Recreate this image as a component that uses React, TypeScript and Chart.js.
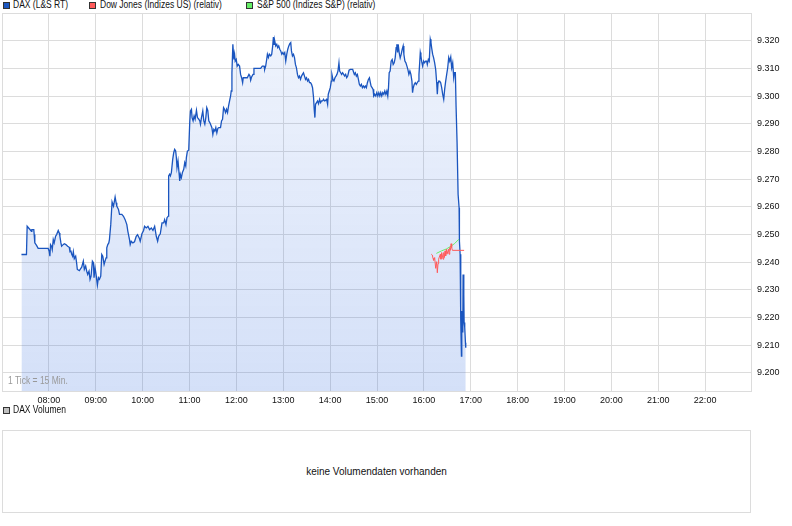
import React, { useEffect, useRef } from "react";
import { Chart, registerables } from "chart.js";

Chart.register(...registerables);

// x axis: minutes of the day
const xMin = 420; // 07:00
const xMax = 1380; // 23:00
const xTickMinutes = [480, 540, 600, 660, 720, 780, 840, 900, 960, 1020, 1080, 1140, 1200, 1260, 1320];
const xTickLabels = ["08:00", "09:00", "10:00", "11:00", "12:00", "13:00", "14:00", "15:00", "16:00", "17:00", "18:00", "19:00", "20:00", "21:00", "22:00"];

// y axis (index points)
const yMin = 9193.1;
const yMax = 9330.1;
const yTickValues = [9200, 9210, 9220, 9230, 9240, 9250, 9260, 9270, 9280, 9290, 9300, 9310, 9320];
const yTickLabels = ["9.200", "9.210", "9.220", "9.230", "9.240", "9.250", "9.260", "9.270", "9.280", "9.290", "9.300", "9.310", "9.320"];

// DAX (L&S RT): [minute of day, value]
const daxSeries: [number, number][] = [
  [444.9, 9242.8], [451.3, 9242.8], [452.2, 9253.0], [457.7, 9251.2], [458.2, 9251.8], [460.7, 9251.8],
  [461.2, 9250.0], [462.0, 9247.0], [464.2, 9246.1], [466.3, 9245.0], [479.1, 9245.0], [480.4, 9244.0],
  [481.3, 9242.2], [482.1, 9246.4], [483.4, 9245.8], [484.3, 9244.6], [485.6, 9248.2], [486.8, 9247.0],
  [488.6, 9249.4], [489.9, 9250.0], [492.0, 9251.5], [493.3, 9250.6], [494.1, 9249.4], [495.4, 9247.0],
  [496.3, 9245.8], [497.6, 9246.2], [499.7, 9246.7], [501.8, 9246.4], [504.0, 9245.8], [506.1, 9245.4],
  [507.0, 9243.8], [508.3, 9244.0], [509.1, 9243.0], [510.4, 9242.2], [511.3, 9243.8], [512.5, 9241.3],
  [514.3, 9242.2], [515.5, 9239.8], [516.4, 9237.4], [519.0, 9237.0], [520.7, 9237.7], [522.0, 9238.2],
  [524.1, 9240.4], [525.4, 9237.4], [527.1, 9238.6], [528.4, 9236.8], [529.7, 9235.6], [531.4, 9236.8],
  [532.7, 9233.8], [534.0, 9235.0], [535.7, 9240.4], [537.0, 9239.8], [537.8, 9234.4], [539.1, 9238.0],
  [540.4, 9235.6], [542.1, 9231.7], [543.4, 9234.4], [544.7, 9233.8], [546.4, 9235.0], [547.7, 9242.8],
  [549.0, 9242.2], [550.7, 9239.2], [551.9, 9240.4], [553.2, 9241.6], [554.1, 9245.2], [555.4, 9246.4],
  [556.7, 9247.0], [557.5, 9248.2], [559.2, 9253.6], [560.9, 9261.8], [562.7, 9260.3], [563.9, 9262.1],
  [564.8, 9263.6], [566.1, 9261.5], [566.9, 9260.3], [569.1, 9259.1], [570.4, 9257.3], [573.4, 9257.3],
  [575.5, 9256.6], [577.6, 9255.4], [579.8, 9253.6], [581.1, 9251.2], [583.2, 9248.2], [584.1, 9246.4],
  [585.4, 9247.6], [587.5, 9247.0], [589.6, 9247.4], [591.8, 9249.4], [593.5, 9250.0], [595.6, 9248.8],
  [596.9, 9247.6], [599.1, 9250.3], [601.2, 9251.5], [602.5, 9253.0], [604.7, 9252.4], [606.8, 9253.0],
  [608.9, 9251.8], [611.1, 9252.4], [613.2, 9251.5], [615.4, 9253.0], [617.5, 9249.4], [619.2, 9247.6],
  [620.5, 9249.4], [622.6, 9250.3], [624.8, 9254.2], [626.9, 9254.2], [628.2, 9255.4], [629.9, 9253.6],
  [631.2, 9256.1], [632.9, 9256.7],
  [633.3, 9271.2], [634.6, 9271.8], [635.5, 9271.2], [636.8, 9272.4], [638.5, 9277.2], [639.8, 9279.6],
  [641.0, 9280.8], [642.3, 9280.2], [643.2, 9277.8], [644.0, 9274.2], [645.3, 9276.6], [647.5, 9269.4],
  [648.3, 9271.8], [649.6, 9270.6], [650.9, 9272.4], [652.6, 9273.6], [653.9, 9276.0], [655.2, 9274.8],
  [656.0, 9277.8], [657.3, 9280.2], [659.0, 9280.5], [660.3, 9290.5], [661.2, 9294.7], [662.5, 9295.3],
  [663.3, 9292.3], [664.6, 9291.1], [665.9, 9292.9], [667.2, 9291.7], [668.9, 9294.9], [670.2, 9292.3],
  [671.9, 9291.7], [673.2, 9291.1], [674.0, 9289.9], [675.3, 9292.3], [677.0, 9294.7], [678.3, 9291.1],
  [679.6, 9289.9], [680.9, 9292.3], [682.1, 9295.9], [683.4, 9294.9], [684.7, 9291.1], [686.0, 9290.5],
  [687.3, 9289.6], [688.6, 9288.7], [689.9, 9286.2], [691.1, 9288.0], [692.4, 9287.4], [693.7, 9288.7],
  [695.0, 9286.8], [696.3, 9288.4], [697.6, 9288.7], [699.7, 9288.7], [701.0, 9291.1], [702.3, 9291.7],
  [703.6, 9295.9], [704.8, 9295.3], [706.1, 9294.1], [707.4, 9295.3], [708.7, 9294.1], [710.0, 9296.5],
  [711.3, 9298.3], [712.6, 9300.1], [713.4, 9301.9], [714.3, 9308.5], [715.5, 9318.8], [716.8, 9313.3],
  [717.7, 9315.2], [718.5, 9312.7], [719.8, 9313.3], [721.1, 9310.9], [722.4, 9311.5], [724.1, 9310.9],
  [725.4, 9307.9], [726.7, 9306.7], [728.0, 9304.9], [728.8, 9306.7], [731.8, 9306.7], [734.0, 9306.7],
  [736.1, 9307.9], [737.4, 9307.3], [738.3, 9305.8], [739.5, 9307.0], [741.3, 9307.9], [742.5, 9310.1],
  [751.1, 9310.1], [753.2, 9310.9], [755.4, 9310.9], [756.2, 9309.7], [757.5, 9310.9], [758.8, 9313.3],
  [759.7, 9315.2], [761.0, 9314.0], [762.2, 9315.2], [764.0, 9314.6], [765.2, 9315.2], [766.5, 9318.2],
  [767.4, 9321.4], [768.2, 9318.8], [769.1, 9320.0], [770.4, 9318.2], [771.7, 9318.8], [772.9, 9317.6],
  [774.2, 9318.2], [775.5, 9317.0], [776.8, 9316.4], [778.1, 9315.2], [779.4, 9315.8], [780.6, 9315.2],
  [781.9, 9315.8], [783.2, 9312.7], [784.5, 9315.2], [785.8, 9317.0], [787.1, 9318.2], [788.4, 9319.0],
  [789.6, 9319.4], [790.5, 9316.4], [791.8, 9314.6], [793.1, 9315.2], [794.4, 9314.0], [795.6, 9311.5],
  [796.9, 9310.3], [798.2, 9307.9], [799.5, 9306.7], [800.8, 9307.3], [802.1, 9306.1], [803.4, 9307.3],
  [804.6, 9307.9], [805.9, 9308.5], [807.2, 9307.3], [808.5, 9306.1], [809.8, 9306.7], [811.1, 9305.5],
  [812.4, 9306.1], [813.6, 9304.9], [814.9, 9304.9], [816.2, 9304.3], [817.5, 9303.1], [818.8, 9299.5],
  [819.6, 9295.3], [820.5, 9292.3], [821.3, 9297.1], [822.6, 9297.7], [823.9, 9298.3], [825.2, 9297.3],
  [826.5, 9298.9], [827.8, 9297.7], [829.0, 9298.3], [830.3, 9298.3], [831.6, 9298.9], [832.9, 9298.3],
  [834.2, 9298.5], [835.5, 9298.9], [836.8, 9297.1], [837.6, 9300.7], [838.9, 9301.9], [840.2, 9303.1],
  [841.5, 9305.5], [842.3, 9307.9], [843.6, 9306.1], [844.9, 9305.5], [846.2, 9306.7], [847.5, 9307.3],
  [848.7, 9307.9], [850.0, 9309.1], [851.3, 9312.1], [852.2, 9309.1], [853.5, 9308.5], [854.7, 9307.9],
  [856.0, 9308.5], [857.3, 9307.9], [858.6, 9307.3], [859.9, 9307.9], [861.2, 9306.7], [862.5, 9307.3],
  [864.2, 9309.4], [865.9, 9309.7],
  [866.7, 9309.7], [868.9, 9309.7], [871.0, 9307.9], [872.3, 9308.5], [873.6, 9307.3], [874.9, 9307.9],
  [876.2, 9306.1], [877.4, 9304.3], [878.7, 9303.7], [880.0, 9304.3], [881.3, 9303.1], [882.6, 9303.7],
  [883.9, 9303.1], [885.1, 9303.7], [886.4, 9303.1], [887.7, 9304.9], [889.0, 9306.1], [890.3, 9306.7],
  [891.1, 9305.5], [892.4, 9303.7], [893.7, 9303.1], [895.0, 9302.5], [895.8, 9300.1], [897.1, 9300.7],
  [898.4, 9300.1], [899.7, 9301.3], [901.0, 9300.1], [902.3, 9301.3], [903.6, 9300.1], [904.8, 9301.3],
  [906.1, 9300.1], [907.4, 9301.3], [908.7, 9300.7], [910.0, 9301.9], [911.3, 9300.7], [912.6, 9301.9],
  [913.8, 9300.1], [914.7, 9303.1], [915.6, 9308.5], [916.8, 9309.1], [918.1, 9312.7], [919.4, 9313.3],
  [920.7, 9311.5], [922.0, 9312.1], [923.3, 9313.9], [924.5, 9317.6], [925.4, 9318.8], [926.3, 9315.8],
  [927.1, 9318.8], [928.4, 9315.8], [929.7, 9313.9], [931.0, 9315.2], [932.3, 9317.0], [933.5, 9318.2],
  [934.4, 9315.2], [935.7, 9312.7], [937.0, 9312.1], [938.3, 9310.9], [939.5, 9309.7], [940.8, 9307.9],
  [942.1, 9309.1], [943.4, 9307.9], [944.7, 9305.5], [945.5, 9301.3], [946.4, 9303.1], [947.7, 9304.3],
  [949.0, 9304.9], [950.3, 9304.3], [951.5, 9304.9], [952.8, 9305.5], [953.7, 9307.9], [954.5, 9311.5],
  [955.4, 9315.8], [956.2, 9314.6], [957.1, 9312.7], [958.4, 9310.9], [959.7, 9312.7], [960.9, 9312.1],
  [962.2, 9312.7], [963.5, 9312.7], [964.4, 9311.5], [965.7, 9313.3], [966.9, 9312.7], [968.2, 9320.6],
  [969.1, 9319.4], [969.9, 9317.6], [971.2, 9315.2], [972.5, 9313.9], [973.8, 9312.1], [975.1, 9309.7],
  [976.4, 9304.9], [977.2, 9300.7], [978.1, 9304.9], [978.9, 9305.5], [980.2, 9305.5], [981.5, 9304.9],
  [982.8, 9303.1], [984.1, 9300.7], [985.4, 9298.9], [986.6, 9302.5], [987.9, 9305.5], [989.2, 9307.9],
  [990.5, 9310.3], [991.8, 9314.0], [993.1, 9312.7], [994.4, 9314.2], [995.6, 9310.3], [996.9, 9312.1],
  [998.2, 9306.7], [999.1, 9308.5], [1000.3, 9308.5], [1001.2, 9296.5], [1002.5, 9283.2], [1003.8, 9264.6],
  [1005.1, 9259.7], [1005.5, 9247.7], [1006.4, 9242.9], [1007.2, 9218.8], [1008.1, 9206.1], [1008.5, 9222.4],
  [1008.9, 9216.4], [1009.8, 9214.6], [1010.2, 9235.6], [1011.1, 9228.4], [1011.5, 9218.2], [1012.3, 9216.4],
  [1013.2, 9210.9], [1013.6, 9209.1],
];

// Dow Jones (Indizes US) (relativ)
const dowSeries: [number, number][] = [
  [969.5, 9242.9], [970.8, 9242.6], [971.7, 9241.4], [972.5, 9240.7], [973.8, 9241.7], [975.1, 9237.8],
  [976.4, 9240.2], [977.2, 9236.2], [978.1, 9239.5], [978.9, 9241.1], [980.2, 9242.3], [981.1, 9242.9],
  [981.9, 9241.1], [982.8, 9243.5], [983.6, 9242.6], [984.5, 9241.1], [985.4, 9243.5], [986.2, 9241.7],
  [987.1, 9244.1], [987.9, 9242.3], [988.8, 9244.7], [989.6, 9242.9], [990.5, 9242.9], [991.4, 9244.7],
  [992.2, 9242.9], [993.1, 9245.3], [993.9, 9244.3], [994.8, 9246.7], [995.6, 9245.3], [996.5, 9244.3],
  [1011.5, 9244.3],
];

// S&P 500 (Indizes S&P) (relativ)
const spSeries: [number, number][] = [
  [976.0, 9243.2], [982.4, 9244.1], [988.8, 9244.8], [995.2, 9245.9], [999.5, 9246.8], [1004.6, 9248.3],
];

const FONT = '"Liberation Sans", Arial, sans-serif';
const GRID = "#dcdcdc";

const legendItems = [
  { label: "DAX (L&S RT)", color: "#1c58c2", box: 3, text: 13 },
  { label: "Dow Jones (Indizes US) (relativ)", color: "#ff5a5a", box: 89, text: 100 },
  { label: "S&P 500 (Indizes S&P) (relativ)", color: "#66ee66", box: 246, text: 257 },
];

const borderPlugin = {
  id: "areaBorder",
  afterDatasetsDraw(chart: any) {
    const { ctx, chartArea } = chart;
    ctx.save();
    ctx.strokeStyle = GRID;
    ctx.lineWidth = 1;
    ctx.strokeRect(
      Math.round(chartArea.left) + 0.5,
      Math.round(chartArea.top) + 0.5,
      Math.round(chartArea.right - chartArea.left) - 1,
      Math.round(chartArea.bottom - chartArea.top) - 1
    );
    ctx.restore();
  },
};

function LegendBox({ left, top, color }: { left: number; top: number; color: string }) {
  return (
    <div
      style={{
        position: "absolute",
        left,
        top,
        width: 5,
        height: 5,
        background: color,
        border: "1px solid #333",
      }}
    />
  );
}

function NarrowText({ left, top, children, color }: { left: number; top: number; children: any; color?: string }) {
  return (
    <div
      style={{
        position: "absolute",
        left,
        top,
        lineHeight: "12px",
        whiteSpace: "nowrap",
        transform: "scaleX(0.85)",
        transformOrigin: "0 0",
        color: color ?? "#111",
      }}
    >
      {children}
    </div>
  );
}

export default function App() {
  const canvasRef = useRef<HTMLCanvasElement | null>(null);

  useEffect(() => {
    const canvas = canvasRef.current;
    if (!canvas) return;
    const chart = new Chart(canvas, {
      type: "line",
      data: {
        datasets: [
          {
            label: "DAX (L&S RT)",
            data: daxSeries.map(([x, y]) => ({ x, y })),
            borderColor: "#1a55bf",
            borderWidth: 1.3,
            pointRadius: 0,
            tension: 0,
            fill: "start",
            order: 3,
            backgroundColor: (ctx: any) => {
              const area = ctx.chart.chartArea;
              if (!area) return "rgba(40,100,220,0.12)";
              const g = ctx.chart.ctx.createLinearGradient(0, area.top, 0, area.bottom);
              g.addColorStop(0, "rgba(40,100,220,0.07)");
              g.addColorStop(1, "rgba(40,100,220,0.20)");
              return g;
            },
          },
          {
            label: "S&P 500 (Indizes S&P) (relativ)",
            data: spSeries.map(([x, y]) => ({ x, y })),
            borderColor: "#66ee66",
            borderWidth: 1,
            pointRadius: 0,
            fill: false,
            order: 2,
          },
          {
            label: "Dow Jones (Indizes US) (relativ)",
            data: dowSeries.map(([x, y]) => ({ x, y })),
            borderColor: "#ff5a5a",
            borderWidth: 1,
            pointRadius: 0,
            fill: false,
            order: 1,
          },
        ],
      },
      options: {
        animation: false,
        responsive: false,
        maintainAspectRatio: false,
        devicePixelRatio: 1,
        layout: { padding: { left: 2, top: 13, right: 0, bottom: 0 } },
        plugins: { legend: { display: false }, tooltip: { enabled: false } },
        scales: {
          x: {
            type: "linear",
            min: xMin,
            max: xMax,
            afterBuildTicks: (scale: any) => {
              scale.ticks = xTickMinutes.map((v) => ({ value: v }));
            },
            afterFit: (scale: any) => {
              scale.height = 18;
            },
            ticks: {
              autoSkip: false,
              maxRotation: 0,
              padding: 3,
              color: "#111",
              font: { family: FONT, size: 9 },
              callback: (v: any) => xTickLabels[xTickMinutes.indexOf(Number(v))] ?? "",
            },
            grid: { color: GRID, drawTicks: false },
            border: { display: false },
          },
          y: {
            type: "linear",
            position: "right",
            min: yMin,
            max: yMax,
            afterBuildTicks: (scale: any) => {
              scale.ticks = yTickValues.map((v) => ({ value: v }));
            },
            afterFit: (scale: any) => {
              scale.width = 40;
            },
            ticks: {
              padding: 5,
              color: "#111",
              font: { family: FONT, size: 9 },
              callback: (v: any) => yTickLabels[yTickValues.indexOf(Number(v))] ?? "",
            },
            grid: { color: GRID, drawTicks: false },
            border: { display: false },
          },
        },
      },
      plugins: [borderPlugin],
    } as any);
    return () => chart.destroy();
  }, []);

  return (
    <div
      style={{
        position: "absolute",
        left: 0,
        top: 0,
        width: 792,
        height: 526,
        background: "#fff",
        fontFamily: FONT,
        fontSize: 10,
        color: "#111",
      }}
    >
      {legendItems.map((it) => (
        <React.Fragment key={it.label}>
          <LegendBox left={it.box} top={2} color={it.color} />
          <NarrowText left={it.text} top={-1}>{it.label}</NarrowText>
        </React.Fragment>
      ))}
      <canvas
        ref={canvasRef}
        width={792}
        height={410}
        style={{ position: "absolute", left: 0, top: 0, width: 792, height: 410 }}
      />
      <NarrowText left={8} top={375} color="#999">1 Tick = 15 Min.</NarrowText>
      <LegendBox left={3} top={407} color="#c0c0c0" />
      <NarrowText left={13} top={404}>DAX Volumen</NarrowText>
      <div
        style={{
          position: "absolute",
          left: 2,
          top: 430,
          width: 747,
          height: 81,
          border: "1px solid #dcdcdc",
          display: "flex",
          alignItems: "center",
          justifyContent: "center",
          color: "#111",
        }}
      >
        keine Volumendaten vorhanden
      </div>
    </div>
  );
}
